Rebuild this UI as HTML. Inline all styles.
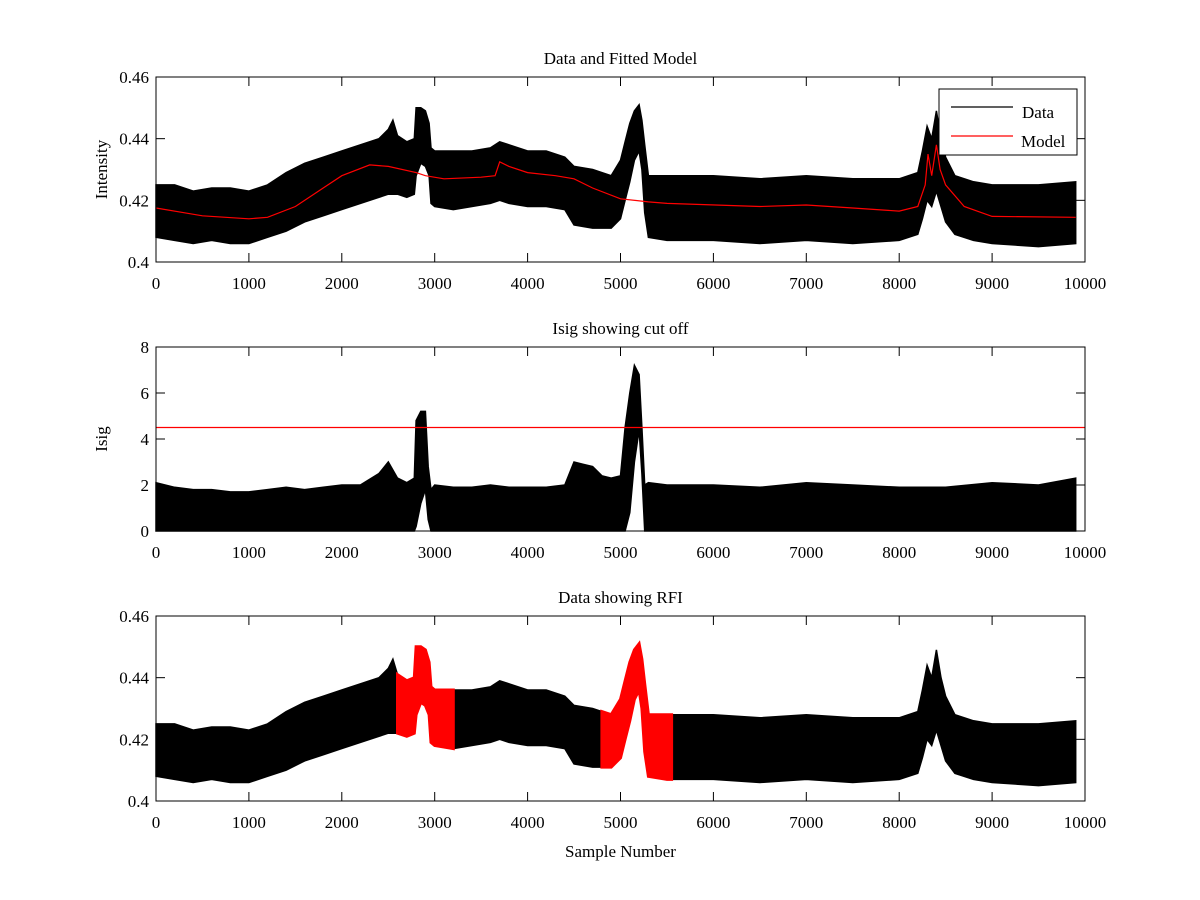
<!DOCTYPE html>
<html><head><meta charset="utf-8"><style>
body{margin:0;background:#fff}
svg{display:block;font-family:"Liberation Serif",serif}
</style></head><body>
<svg id="chart" width="1200" height="900" viewBox="0 0 1200 900">
<rect width="1200" height="900" fill="#fff"/>
</svg>
<script>
// Panel 1 / 3 data envelope (sample number, min, max)
const dataX  = [0,200,400,600,800,1000,1200,1400,1600,1800,2000,2200,2400,2500,2550,2600,2700,2780,2800,2850,2900,2940,2960,3000,3200,3400,3600,3700,3800,4000,4200,4400,4500,4700,4900,5000,5050,5100,5150,5200,5230,5260,5300,5500,6000,6500,7000,7500,8000,8200,8250,8300,8350,8400,8450,8500,8600,8800,9000,9500,9900];
const dataLo = [0.408,0.407,0.406,0.407,0.406,0.406,0.408,0.410,0.413,0.415,0.417,0.419,0.421,0.422,0.422,0.422,0.421,0.422,0.428,0.432,0.431,0.428,0.419,0.418,0.417,0.418,0.419,0.420,0.419,0.418,0.418,0.417,0.412,0.411,0.411,0.414,0.420,0.426,0.433,0.436,0.430,0.416,0.408,0.407,0.407,0.406,0.407,0.406,0.407,0.409,0.414,0.420,0.418,0.423,0.418,0.413,0.409,0.407,0.406,0.405,0.406];
const dataHi = [0.425,0.425,0.423,0.424,0.424,0.423,0.425,0.429,0.432,0.434,0.436,0.438,0.440,0.443,0.446,0.441,0.439,0.440,0.450,0.450,0.449,0.445,0.437,0.436,0.436,0.436,0.437,0.439,0.438,0.436,0.436,0.434,0.431,0.430,0.428,0.433,0.439,0.445,0.449,0.451,0.446,0.438,0.428,0.428,0.428,0.427,0.428,0.427,0.427,0.429,0.436,0.444,0.440,0.449,0.440,0.434,0.428,0.426,0.425,0.425,0.426];
// Fitted model
const modelX = [0,300,500,1000,1200,1500,1800,2000,2300,2500,2800,2900,3100,3500,3650,3700,3800,4000,4300,4500,4700,5000,5300,5500,6500,7000,7500,8000,8200,8280,8310,8350,8400,8440,8500,8700,9000,9900];
const modelY = [0.4175,0.416,0.415,0.414,0.4145,0.418,0.424,0.428,0.4315,0.431,0.429,0.428,0.427,0.4275,0.428,0.4325,0.431,0.429,0.428,0.427,0.424,0.4205,0.4195,0.419,0.418,0.4185,0.4175,0.4165,0.418,0.425,0.435,0.428,0.438,0.430,0.425,0.418,0.4148,0.4145];
// Isig envelope
const isigX  = [0,200,400,600,800,1000,1200,1400,1600,1800,2000,2200,2400,2500,2600,2700,2780,2800,2850,2900,2930,2960,3000,3200,3400,3600,3800,4000,4200,4400,4500,4600,4700,4800,4900,5000,5050,5100,5150,5200,5230,5260,5300,5500,6000,6500,7000,7500,8000,8500,9000,9500,9900];
const isigLo = [0,0,0,0,0,0,0,0,0,0,0,0,0,0,0,0,0,0.2,1.2,1.8,0.5,0,0,0,0,0,0,0,0,0,0,0,0,0,0,0,0,0.8,3.0,4.4,2.5,0,0,0,0,0,0,0,0,0,0,0,0];
const isigHi = [2.1,1.9,1.8,1.8,1.7,1.7,1.8,1.9,1.8,1.9,2.0,2.0,2.5,3.0,2.3,2.1,2.3,4.8,5.2,5.2,2.8,1.8,2.0,1.9,1.9,2.0,1.9,1.9,1.9,2.0,3.0,2.9,2.8,2.4,2.3,2.4,4.5,6.0,7.2,6.8,4.5,2.0,2.1,2.0,2.0,1.9,2.1,2.0,1.9,1.9,2.1,2.0,2.3];
const cutoff = 4.5;
// RFI flagged ranges
const rfiRanges = [[2600,3200],[4800,5550]];
const xTicks = [0,1000,2000,3000,4000,5000,6000,7000,8000,9000,10000];
const y1Ticks = [0.4,0.42,0.44,0.46];
const y2Ticks = [0,2,4,6,8];

const NS="http://www.w3.org/2000/svg";
const svg=document.getElementById('chart');
const X0=156,X1=1085;
function xs(s){return X0+(s/10000)*(X1-X0);}
function mk(tag,attrs,parent){const e=document.createElementNS(NS,tag);for(const k in attrs)e.setAttribute(k,attrs[k]);(parent||svg).appendChild(e);return e;}
function interp(xArr,yArr,s){for(let i=0;i<xArr.length-1;i++){if(s>=xArr[i]&&s<=xArr[i+1]){const t=(s-xArr[i])/(xArr[i+1]-xArr[i]);return yArr[i]+t*(yArr[i+1]-yArr[i]);}}return yArr[yArr.length-1];}

const panels=[
 {top:77,bot:262,ymin:0.4,ymax:0.46,ticks:y1Ticks,fmt:v=>v===0.4?'0.4':v.toFixed(2),title:'Data and Fitted Model',ylab:'Intensity',name:'data-model'},
 {top:347,bot:531,ymin:0,ymax:8,ticks:y2Ticks,fmt:v=>String(v),title:'Isig showing cut off',ylab:'Isig',name:'isig'},
 {top:616,bot:801,ymin:0.4,ymax:0.46,ticks:y1Ticks,fmt:v=>v===0.4?'0.4':v.toFixed(2),title:'Data showing RFI',ylab:'',name:'rfi'}
];
panels.forEach(p=>{p.ys=v=>p.bot-(v-p.ymin)/(p.ymax-p.ymin)*(p.bot-p.top);});

function band(p,xArr,lo,hi,color,name,from,to){
  let pts=[];
  const xsIdx=[];
  for(let i=0;i<xArr.length;i++){if(from===undefined||(xArr[i]>=from&&xArr[i]<=to))xsIdx.push(xArr[i]);}
  if(from!==undefined){xsIdx.unshift(from);xsIdx.push(to);}
  const uniq=[...new Set(xsIdx)].sort((a,b)=>a-b);
  uniq.forEach(s=>pts.push(xs(s).toFixed(1)+','+p.ys(interp(xArr,hi,s)).toFixed(1)));
  uniq.slice().reverse().forEach(s=>pts.push(xs(s).toFixed(1)+','+p.ys(interp(xArr,lo,s)).toFixed(1)));
  const el=mk('polygon',{points:pts.join(' '),fill:color,stroke:color,'stroke-width':1.5});
  
  
  return el;
}
function line(p,xArr,yArr,color,name){
  const d=xArr.map((s,i)=>(i?'L':'M')+xs(s).toFixed(1)+','+p.ys(yArr[i]).toFixed(1)).join(' ');
  const el=mk('path',{d:d,fill:'none',stroke:color,'stroke-width':1.2});
  
  
}

// series
band(panels[0],dataX,dataLo,dataHi,'#000','data-series');
line(panels[0],modelX,modelY,'#f00','model-series');
band(panels[1],isigX,isigLo,isigHi,'#000','isig-series');
{const p=panels[1];const el=mk('line',{x1:X0,x2:X1,y1:p.ys(cutoff),y2:p.ys(cutoff),stroke:'#f00','stroke-width':1.2});

}
band(panels[2],dataX,dataLo,dataHi,'#000','data-series-rfi-panel');
rfiRanges.forEach((r,i)=>{
  const el=band(panels[2],dataX,dataLo,dataHi,'#f00','rfi-flagged-'+(i+1),r[0],r[1]);
  el.setAttribute('stroke-width','3');
});

// axes
panels.forEach(p=>{
  const g=mk('g',{});
  
  
  mk('rect',{x:X0,y:p.top,width:X1-X0,height:p.bot-p.top,fill:'none',stroke:'#000','stroke-width':1},g);
  xTicks.forEach(t=>{
    const x=xs(t);
    mk('line',{x1:x,x2:x,y1:p.bot,y2:p.bot-9,stroke:'#000'},g);
    mk('line',{x1:x,x2:x,y1:p.top,y2:p.top+9,stroke:'#000'},g);
    const tx=mk('text',{x:x,y:p.bot+27,'text-anchor':'middle','font-size':17},g);
    tx.textContent=t;
    
    
  });
  p.ticks.forEach(t=>{
    const y=p.ys(t);
    mk('line',{x1:X0,x2:X0+9,y1:y,y2:y,stroke:'#000'},g);
    mk('line',{x1:X1,x2:X1-9,y1:y,y2:y,stroke:'#000'},g);
    const tx=mk('text',{x:X0-7,y:y+6,'text-anchor':'end','font-size':17},g);
    tx.textContent=p.fmt(t);
    
    
  });
  const tt=mk('text',{x:(X0+X1)/2,y:p.top-13,'text-anchor':'middle','font-size':17},g);
  tt.textContent=p.title;
  
  
  if(p.ylab){
    const cy=(p.top+p.bot)/2;
    const yl=mk('text',{x:107,y:cy,'text-anchor':'middle','font-size':17,transform:'rotate(-90 107 '+cy+')'},g);
    yl.textContent=p.ylab;
    
    
  }
});
const xl=mk('text',{x:(X0+X1)/2,y:857,'text-anchor':'middle','font-size':17});
xl.textContent='Sample Number';



// legend
const lg=mk('g',{});


mk('rect',{x:939,y:89,width:138,height:66,fill:'#fff',stroke:'#000'},lg);
mk('line',{x1:951,x2:1013,y1:107,y2:107,stroke:'#000','stroke-width':1.2},lg);
mk('line',{x1:951,x2:1013,y1:136,y2:136,stroke:'#f00','stroke-width':1.2},lg);
const t1=mk('text',{x:1022,y:118,'font-size':17},lg);t1.textContent='Data';


const t2=mk('text',{x:1021,y:147,'font-size':17},lg);t2.textContent='Model';


</script>
</body></html>
